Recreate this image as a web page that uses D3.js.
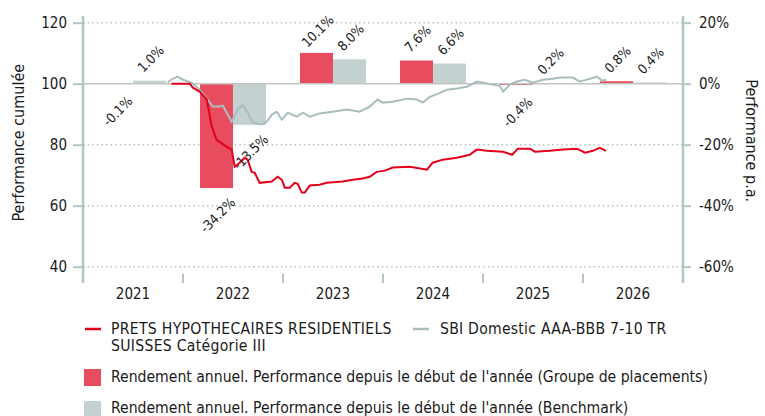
<!DOCTYPE html>
<html>
<head>
<meta charset="utf-8">
<script src="https://cdn.jsdelivr.net/npm/d3@7"></script>
<style>
  body { margin: 0; background: #fff; }
  svg { display: block; font-family: "DejaVu Sans Condensed", "DejaVu Sans", sans-serif; }
</style>
</head>
<body>
<svg width="765" height="416"></svg>
<script>
// years and annual returns (%)
const years = ["2021", "2022", "2023", "2024", "2025", "2026"];
const fundAnnual = [-0.1, -34.2, 10.1, 7.6, -0.4, 0.8];
const benchAnnual = [1.0, -13.5, 8.0, 6.6, 0.2, 0.4];

// cumulative performance (base 100)
const fundDates = ["2021-11-20", "2022-01-26", "2022-02-06", "2022-03-03", "2022-03-29", "2022-04-16", "2022-05-04",
  "2022-06-10", "2022-06-28", "2022-07-09", "2022-07-27", "2022-08-14", "2022-08-25", "2022-09-09", "2022-09-20",
  "2022-10-08", "2022-11-21", "2022-12-13", "2022-12-28", "2023-01-08", "2023-01-26", "2023-02-13", "2023-02-24",
  "2023-03-11", "2023-03-22", "2023-04-09", "2023-05-15", "2023-06-10", "2023-08-07", "2023-09-13", "2023-10-19",
  "2023-11-14", "2023-12-09", "2024-01-08", "2024-02-06", "2024-04-09", "2024-06-10", "2024-07-01", "2024-08-07",
  "2024-09-27", "2024-11-13", "2024-12-09", "2025-01-15", "2025-03-15", "2025-04-17", "2025-05-08", "2025-06-21",
  "2025-07-09", "2025-09-02", "2025-10-20", "2025-12-10", "2026-01-08", "2026-02-06", "2026-03-03", "2026-03-26"];
const fundValues = [100, 100, 98.7, 97.4, 94.8, 86.0, 81.6,
  79.3, 78.4, 72.8, 74.1, 75.7, 75.1, 71.1, 70.8,
  67.5, 67.9, 69.5, 68.5, 65.9, 65.9, 67.5, 67.2,
  64.3, 64.3, 66.6, 66.9, 67.5, 67.9, 68.5, 68.9,
  69.5, 71.1, 71.5, 72.5, 72.8, 71.8, 74.1, 75.1,
  75.7, 76.7, 78.4, 78.0, 77.7, 76.7, 78.7, 78.7,
  77.7, 78.0, 78.4, 78.7, 77.4, 78.0, 79.0, 78.0];

const benchDates = ["2021-11-06", "2021-11-24", "2021-12-12", "2022-01-01", "2022-02-03", "2022-03-03", "2022-04-01",
  "2022-04-20", "2022-05-15", "2022-05-27", "2022-06-28", "2022-07-20", "2022-08-07", "2022-08-25", "2022-09-13",
  "2022-10-15", "2022-11-03", "2022-11-21", "2022-12-09", "2022-12-28", "2023-01-19", "2023-02-06", "2023-02-21",
  "2023-03-15", "2023-04-09", "2023-05-15", "2023-07-01", "2023-08-22", "2023-10-08", "2023-11-14", "2023-12-13",
  "2024-01-01", "2024-02-06", "2024-03-28", "2024-05-04", "2024-05-26", "2024-06-21", "2024-07-27", "2024-08-22",
  "2024-09-27", "2024-11-03", "2024-12-09", "2025-01-01", "2025-02-06", "2025-03-03", "2025-03-15", "2025-04-09",
  "2025-05-04", "2025-06-03", "2025-07-01", "2025-08-07", "2025-09-13", "2025-10-08", "2025-11-03", "2025-11-24",
  "2025-12-20", "2026-01-01", "2026-01-26", "2026-02-21", "2026-03-11", "2026-03-26"];
const benchValues = [100.4, 101.6, 102.3, 101.3, 100.3, 98.0, 94.8,
  92.5, 92.5, 92.8, 87.5, 91.5, 93.1, 90.5, 87.2,
  86.6, 87.5, 89.8, 90.8, 88.2, 90.5, 89.8, 89.2,
  90.5, 89.2, 90.2, 90.8, 91.5, 90.8, 92.5, 94.8,
  93.8, 94.1, 95.1, 94.8, 93.8, 95.7, 97.0, 98.0,
  98.4, 99.0, 100.7, 100.3, 99.7, 99.3, 97.4, 99.7,
  100.7, 101.3, 100.3, 101.3, 101.6, 102.0, 102.0, 102.0,
  100.7, 101.0, 101.6, 102.3, 101.0, 101.3];

const leftTicks = [40, 60, 80, 100, 120];
const rightTicks = [-60, -40, -20, 0, 20];

const fundName = ["PRETS HYPOTHECAIRES RESIDENTIELS", "SUISSES Catégorie III"];
const benchName = "SBI Domestic AAA-BBB 7-10 TR";
const barLegend = [
  "Rendement annuel. Performance depuis le début de l'année (Groupe de placements)",
  "Rendement annuel. Performance depuis le début de l'année (Benchmark)"
];

const red = "#e3001b";
const redBar = "#e84c5f";
const greyLine = "#a8bdbd";
const greyBar = "#c3d1d1";
const axisColor = "#b3c6c6";

const plotLeft = 83, plotRight = 683, plotTop = 22.7, plotBottom = 266.7;
const svg = d3.select("svg");
const parse = d3.timeParse("%Y-%m-%d");

// scales
const xBand = d3.scaleBand().domain(years).range([plotLeft, plotRight]);
const xSub = d3.scaleBand().domain(["fund", "bench"])
  .range([xBand.bandwidth() / 2 - 33, xBand.bandwidth() / 2 + 33]);
const xTime = d3.scaleTime()
  .domain([parse("2021-01-01"), parse("2027-01-01")])
  .range([plotLeft, plotRight]);
const yLeft = d3.scaleLinear().domain([40, 120]).range([plotBottom, plotTop]);
const yRight = d3.scaleLinear().domain([-60, 20]).range([plotBottom, plotTop]);

// dotted grid
svg.append("g")
  .selectAll("line")
  .data(leftTicks.filter(d => d !== 100))
  .join("line")
  .attr("x1", plotLeft).attr("x2", plotRight)
  .attr("y1", d => yLeft(d)).attr("y2", d => yLeft(d))
  .attr("stroke", "#a9c0c0")
  .attr("stroke-width", 1.6)
  .attr("stroke-dasharray", "1.4,3.2");

// bars
const barData = [];
years.forEach((y, i) => {
  barData.push({ year: y, key: "fund", v: fundAnnual[i] });
  barData.push({ year: y, key: "bench", v: benchAnnual[i] });
});

svg.append("g")
  .selectAll("rect")
  .data(barData)
  .join("rect")
  .attr("x", d => xBand(d.year) + xSub(d.key))
  .attr("width", xSub.bandwidth())
  .attr("y", d => yRight(Math.max(0, d.v)))
  .attr("height", d => Math.abs(yRight(d.v) - yRight(0)))
  .attr("fill", d => d.key === "fund" ? redBar : greyBar);

// zero line
svg.append("line")
  .attr("x1", plotLeft).attr("x2", plotRight)
  .attr("y1", yRight(0)).attr("y2", yRight(0))
  .attr("stroke", "#c4c4c4")
  .attr("stroke-width", 1.5);

// cumulative lines
const line = d3.line()
  .x(d => xTime(d.date))
  .y(d => yLeft(d.v));

const benchSeries = benchDates.map((d, i) => ({ date: parse(d), v: benchValues[i] }));
const fundSeries = fundDates.map((d, i) => ({ date: parse(d), v: fundValues[i] }));

svg.append("path")
  .attr("d", line(benchSeries))
  .attr("fill", "none")
  .attr("stroke", greyLine)
  .attr("stroke-width", 2);

svg.append("path")
  .attr("d", line(fundSeries))
  .attr("fill", "none")
  .attr("stroke", red)
  .attr("stroke-width", 2);

// bar value labels
svg.append("g")
  .selectAll("text")
  .data(barData)
  .join("text")
  .attr("transform", d => {
    const cx = xBand(d.year) + xSub(d.key) + xSub.bandwidth() / 2 + 1;
    const cy = d.v >= 0 ? yRight(d.v) - 22 : yRight(d.v) + 27;
    return `translate(${cx},${cy}) rotate(-45)`;
  })
  .attr("text-anchor", "middle")
  .attr("dominant-baseline", "central")
  .attr("font-size", 13.5)
  .attr("fill", "#1a1a1a")
  .text(d => d.v.toFixed(1) + "%");

// axes
const yAxisL = d3.axisLeft(yLeft).tickValues(leftTicks).tickSize(10).tickPadding(6);
const yAxisR = d3.axisRight(yRight).tickValues(rightTicks).tickSize(8).tickPadding(8)
  .tickFormat(d => d + "%");

const gl = svg.append("g").attr("transform", `translate(${plotLeft},0)`).call(yAxisL);
const gr = svg.append("g").attr("transform", `translate(${plotRight},0)`).call(yAxisR);
[gl, gr].forEach(g => {
  g.select(".domain").remove();
  g.selectAll(".tick line").attr("stroke", axisColor).attr("stroke-width", 2);
  g.selectAll(".tick text").attr("font-size", 15).attr("fill", "#1a1a1a")
    .attr("font-family", "DejaVu Sans Condensed");
});
gl.selectAll(".tick line").attr("x2", 2).attr("x1", -10);

// vertical axis lines
[plotLeft, plotRight].forEach(x => {
  svg.append("line")
    .attr("x1", x).attr("x2", x)
    .attr("y1", 16).attr("y2", 283)
    .attr("stroke", axisColor)
    .attr("stroke-width", 2.5);
});

// bottom band axis
const xAxis = d3.axisBottom(xBand).tickSize(0).tickPadding(16);
const gx = svg.append("g").attr("transform", `translate(0,${plotBottom + 6})`).call(xAxis);
gx.select(".domain").remove();
gx.selectAll(".tick text").attr("font-size", 15).attr("fill", "#1a1a1a")
  .attr("font-family", "DejaVu Sans Condensed");

svg.append("g")
  .selectAll("line")
  .data(years.slice(1))
  .join("line")
  .attr("x1", d => xBand(d)).attr("x2", d => xBand(d))
  .attr("y1", 274).attr("y2", 283)
  .attr("stroke", axisColor)
  .attr("stroke-width", 2);

// axis titles
svg.append("text")
  .attr("transform", `translate(24,${(plotTop + plotBottom) / 2 - 2}) rotate(-90)`)
  .attr("text-anchor", "middle")
  .attr("font-size", 16)
  .attr("fill", "#1a1a1a")
  .text("Performance cumulée");

svg.append("text")
  .attr("transform", `translate(746,${(plotTop + plotBottom) / 2 - 4}) rotate(90)`)
  .attr("text-anchor", "middle")
  .attr("font-size", 16)
  .attr("fill", "#1a1a1a")
  .text("Performance p.a.");

// legend
const leg = svg.append("g").attr("font-size", 15.6).attr("fill", "#1a1a1a");
leg.append("line").attr("x1", 85).attr("x2", 101).attr("y1", 329).attr("y2", 329)
  .attr("stroke", red).attr("stroke-width", 2.5);
leg.append("text").attr("x", 111).attr("y", 334).attr("letter-spacing", 0.3)
  .selectAll("tspan").data(fundName).join("tspan")
  .attr("x", 111).attr("dy", (d, i) => i ? 16.5 : 0).text(d => d);
leg.append("line").attr("x1", 413).attr("x2", 429).attr("y1", 329).attr("y2", 329)
  .attr("stroke", greyLine).attr("stroke-width", 2.5);
leg.append("text").attr("x", 440).attr("y", 334).attr("letter-spacing", 0.25).text(benchName);

[redBar, greyBar].forEach((c, i) => {
  leg.append("rect").attr("x", 84).attr("y", 369 + i * 32).attr("width", 17).attr("height", 17).attr("fill", c);
  leg.append("text").attr("x", 111).attr("y", 382 + i * 30.5).text(barLegend[i]);
});
</script>
</body>
</html>
